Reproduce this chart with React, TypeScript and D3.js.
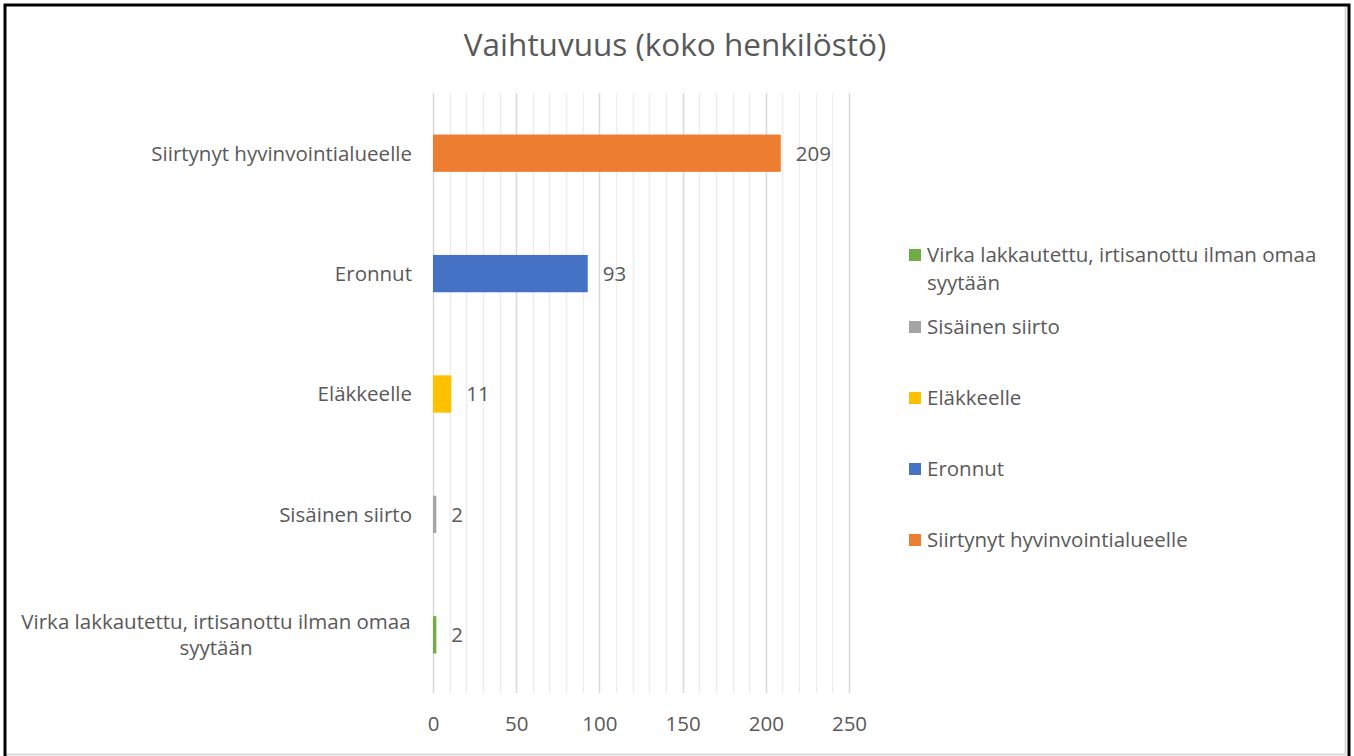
import React, { useEffect, useRef } from 'react';
import * as d3 from 'd3';

const categories = [
  'Siirtynyt hyvinvointialueelle',
  'Eronnut',
  'Eläkkeelle',
  'Sisäinen siirto',
  'Virka lakkautettu, irtisanottu ilman omaa syytään',
];
const values = [209, 93, 11, 2, 2];
const colors = ['#ED7D31', '#4472C4', '#FFC000', '#A5A5A5', '#70AD47'];
const xTicks = [0, 50, 100, 150, 200, 250];
const minorTicks = d3.range(0, 251, 10);
const legendOrder = [4, 3, 2, 1, 0];

// wrapped label lines (as in the original)
const wrapLines: Record<string, string[]> = {
  'Virka lakkautettu, irtisanottu ilman omaa syytään': ['Virka lakkautettu, irtisanottu ilman omaa', 'syytään'],
};

const FONT = '"Open Sans", Lato, sans-serif';
const TEXT = '#595959';
const FS = 20.5;

const App = () => {
  const svgRef = useRef<SVGSVGElement>(null);

  useEffect(() => {
    const svg = d3.select(svgRef.current);
    svg.selectAll('*').remove();

    const width = 1354;
    const height = 756;
    const plot = { left: 433, right: 849, top: 93, bottom: 695 };

    svg.attr('width', width).attr('height', height).style('font-family', FONT);

    svg.append('rect').attr('width', width).attr('height', height).attr('fill', 'white');

    // inner chart-area border
    svg.append('path')
      .attr('d', `M6,754.5 H1345.5 V6`)
      .attr('fill', 'none')
      .attr('stroke', '#D9D9D9')
      .attr('stroke-width', 2);

    // outer black frame
    svg.append('path')
      .attr('d', `M5,${height} V5 H1349 V${height}`)
      .attr('fill', 'none')
      .attr('stroke', 'black')
      .attr('stroke-width', 3);

    svg.append('text')
      .attr('x', 675)
      .attr('y', 56)
      .attr('text-anchor', 'middle')
      .attr('fill', TEXT)
      .attr('font-size', 31.5)
      .text('Vaihtuvuus (koko henkilöstö)');

    const x = d3.scaleLinear().domain([0, 250]).range([plot.left, plot.right]);
    const y = d3.scaleBand<string>()
      .domain(categories)
      .range([plot.top, plot.bottom])
      .paddingInner(0.69)
      .paddingOuter(0.345);

    const grid = svg.append('g');
    grid.selectAll('line.minor')
      .data(minorTicks.filter(t => t % 50 !== 0))
      .join('line')
      .attr('class', 'minor')
      .attr('x1', d => Math.round(x(d)) + 0.5)
      .attr('x2', d => Math.round(x(d)) + 0.5)
      .attr('y1', plot.top)
      .attr('y2', plot.bottom - 2)
      .attr('stroke', '#EDEDED')
      .attr('stroke-width', 1.5);
    grid.selectAll('line.major')
      .data(xTicks)
      .join('line')
      .attr('class', 'major')
      .attr('x1', d => Math.round(x(d)) + 0.5)
      .attr('x2', d => Math.round(x(d)) + 0.5)
      .attr('y1', plot.top)
      .attr('y2', plot.bottom - 2)
      .attr('stroke', '#D9D9D9')
      .attr('stroke-width', 1.5);

    svg.append('g')
      .attr('transform', `translate(0,${plot.bottom})`)
      .call(d3.axisBottom(x).tickValues(xTicks).tickSize(0).tickPadding(21))
      .call(g => g.select('.domain').remove())
      .call(g => g.selectAll('.tick text')
        .attr('fill', TEXT)
        .attr('font-size', FS)
        .attr('font-family', FONT));

    svg.append('g')
      .selectAll('rect')
      .data(categories)
      .join('rect')
      .attr('x', x(0))
      .attr('y', d => y(d)!)
      .attr('width', (d, i) => x(values[i]) - x(0))
      .attr('height', y.bandwidth())
      .attr('fill', (d, i) => colors[i]);

    svg.append('g')
      .selectAll('text')
      .data(categories)
      .join('text')
      .attr('x', (d, i) => x(values[i]) + 15)
      .attr('y', d => y(d)! + y.bandwidth() / 2)
      .attr('dy', '0.36em')
      .attr('fill', TEXT)
      .attr('font-size', FS)
      .text((d, i) => values[i]);

    const labels = svg.append('g');
    categories.forEach(c => {
      const lines = wrapLines[c] || [c];
      const cy = y(c)! + y.bandwidth() / 2;
      const lh = 26;
      lines.forEach((ln, j) => {
        labels.append('text')
          .attr('x', lines.length > 1 ? 216 : 412)
          .attr('y', cy + (j - (lines.length - 1) / 2) * lh)
          .attr('dy', '0.36em')
          .attr('text-anchor', lines.length > 1 ? 'middle' : 'end')
          .attr('fill', TEXT)
          .attr('font-size', FS)
          .text(ln);
      });
    });

    // legend
    const legendY = [255, 327, 398, 469, 540];
    const legend = svg.append('g');
    legendOrder.forEach((idx, k) => {
      const cy = legendY[k];
      legend.append('rect')
        .attr('x', 909)
        .attr('y', cy - 6)
        .attr('width', 12)
        .attr('height', 12)
        .attr('fill', colors[idx]);
      const lines = wrapLines[categories[idx]] || [categories[idx]];
      lines.forEach((ln, j) => {
        legend.append('text')
          .attr('x', 927)
          .attr('y', cy + j * 28)
          .attr('dy', '0.36em')
          .attr('fill', TEXT)
          .attr('font-size', FS)
          .text(ln);
      });
    });
  }, []);

  return (
    <svg ref={svgRef} style={{ position: 'absolute', left: 0, top: 0, display: 'block' }}></svg>
  );
};

export default App;
